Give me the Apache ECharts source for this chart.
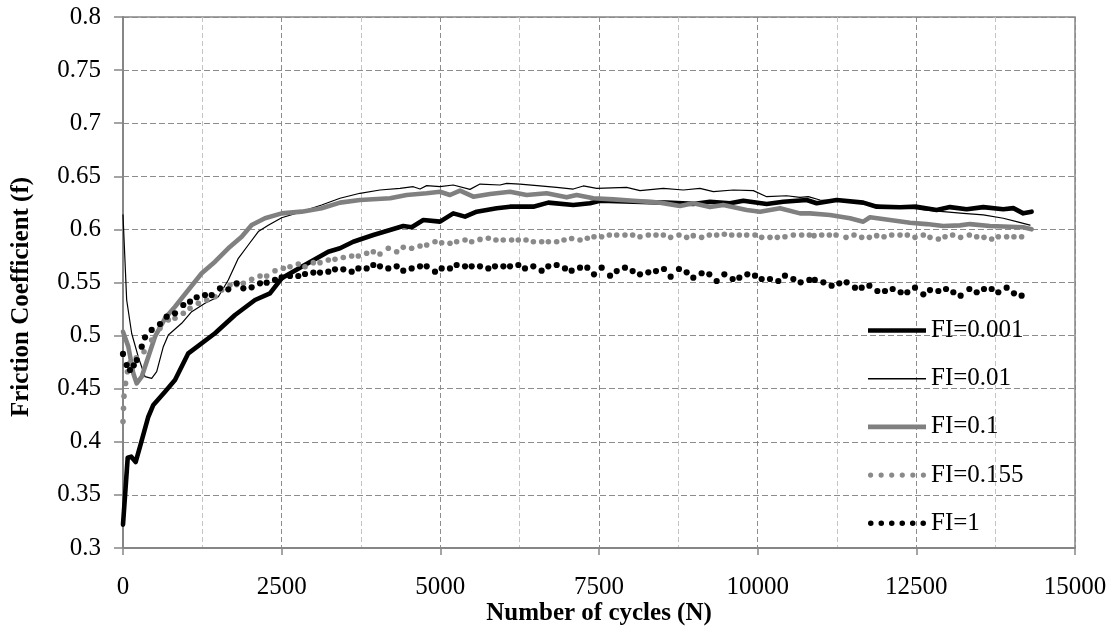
<!DOCTYPE html>
<html>
<head>
<meta charset="utf-8">
<script src="https://cdn.jsdelivr.net/npm/echarts@6/dist/echarts.min.js"></script>
<style>html,body{margin:0;padding:0;background:#fff;}#c{width:1119px;height:632px;}</style>
</head>
<body>
<div id="c"></div>
<script>
// ---- data (cycles, friction coefficient) ----
const seriesNames = ['FI=0.001', 'FI=0.01', 'FI=0.1', 'FI=0.155', 'FI=1'];

const fi0001 = [[0,0.322],[74,0.385],[130,0.386],[200,0.381],[268,0.3954],[399,0.4236],[478,0.4347],[662,0.4472],[819,0.4582],[1029,0.4833],[1450,0.5022],[1765,0.5194],[2080,0.5335],[2316,0.5398],[2500,0.554],[2815,0.5649],[3235,0.579],[3419,0.5822],[3628,0.5884],[3944,0.5947],[4207,0.5994],[4416,0.6032],[4548,0.602],[4732,0.6088],[4995,0.6073],[5204,0.6151],[5389,0.612],[5573,0.6167],[5888,0.6199],[6098,0.6214],[6465,0.6214],[6701,0.6252],[7095,0.623],[7358,0.6246],[7516,0.627],[8041,0.626],[8566,0.6252],[8986,0.624],[9249,0.626],[9564,0.6246],[9774,0.627],[10142,0.624],[10404,0.626],[10772,0.6277],[10930,0.6246],[11245,0.6277],[11664,0.6252],[11875,0.6214],[12242,0.6208],[12505,0.6214],[12820,0.6183],[13030,0.621],[13293,0.619],[13555,0.621],[13870,0.619],[14028,0.62],[14185,0.6151],[14317,0.6167]];

const fi001 = [[0,0.6136],[58,0.5335],[137,0.502],[241,0.48],[347,0.4613],[452,0.4598],[531,0.466],[635,0.4896],[714,0.5006],[924,0.5116],[1082,0.5225],[1292,0.5304],[1502,0.5366],[1659,0.5524],[1817,0.5728],[1974,0.5853],[2132,0.598],[2289,0.604],[2500,0.611],[2815,0.6167],[3130,0.623],[3419,0.6293],[3734,0.634],[4049,0.6371],[4364,0.6387],[4574,0.6402],[4680,0.638],[4785,0.6412],[4995,0.6402],[5204,0.6418],[5467,0.6377],[5625,0.6427],[5940,0.6418],[6045,0.6434],[6255,0.6427],[6570,0.6409],[6833,0.6396],[7095,0.638],[7253,0.6409],[7463,0.6387],[7936,0.6396],[8146,0.6365],[8513,0.6387],[8829,0.6371],[9091,0.6387],[9301,0.6355],[9617,0.6371],[9932,0.6365],[10142,0.6308],[10457,0.6317],[10667,0.6302],[10798,0.6308],[10982,0.6277],[11245,0.627],[11612,0.6252],[11980,0.622],[12348,0.621],[12610,0.6183],[12925,0.6167],[13240,0.6151],[13555,0.6136],[13870,0.6105],[14080,0.6073],[14291,0.6041]];

const fi01 = [[0,0.5037],[84,0.4896],[162,0.4645],[216,0.455],[295,0.4613],[399,0.48],[504,0.499],[662,0.5163],[819,0.5272],[1029,0.5429],[1240,0.5587],[1450,0.5696],[1659,0.5822],[1870,0.5931],[2027,0.6041],[2237,0.6105],[2500,0.6151],[2815,0.6167],[3130,0.6199],[3419,0.6252],[3734,0.6277],[4207,0.6293],[4470,0.6324],[4785,0.634],[4995,0.6355],[5152,0.6324],[5310,0.6365],[5520,0.6308],[5783,0.6333],[6098,0.6355],[6360,0.6324],[6675,0.634],[6990,0.6302],[7148,0.6324],[7410,0.6293],[7726,0.6283],[8041,0.627],[8461,0.6252],[8776,0.622],[8986,0.6246],[9249,0.621],[9459,0.623],[9827,0.6183],[10037,0.6167],[10352,0.62],[10667,0.6151],[10825,0.6151],[11140,0.6136],[11455,0.6105],[11664,0.6073],[11770,0.6114],[12085,0.6089],[12400,0.6063],[12663,0.605],[12925,0.6032],[13188,0.6038],[13345,0.605],[13660,0.6032],[13975,0.6025],[14185,0.602],[14317,0.6001]];

const fi0155 = [[0,0.419],[8,0.4315],[16,0.443],[40,0.455],[70,0.466],[110,0.4745],[210,0.479],[331,0.4848],[452,0.4959],[583,0.5069],[714,0.5147],[819,0.5163],[950,0.521],[1056,0.5257],[1187,0.5304],[1319,0.5335],[1450,0.5366],[1555,0.5429],[1686,0.5476],[1791,0.548],[1896,0.5492],[2027,0.553],[2159,0.5561],[2264,0.5561],[2395,0.5611],[2526,0.5634],[2631,0.5649],[2762,0.5674],[2868,0.5649],[2999,0.5687],[3104,0.5687],[3235,0.5712],[3340,0.5718],[3471,0.5735],[3603,0.575],[3708,0.575],[3839,0.5775],[3944,0.579],[4049,0.5768],[4180,0.5822],[4312,0.579],[4416,0.5831],[4548,0.5822],[4680,0.5844],[4785,0.5853],[4916,0.5884],[5021,0.5875],[5152,0.5869],[5257,0.5884],[5389,0.59],[5494,0.5884],[5625,0.5906],[5756,0.5916],[5876,0.59],[5991,0.59],[6123,0.59],[6228,0.59],[6350,0.59],[6466,0.5884],[6597,0.5884],[6702,0.5884],[6833,0.5884],[6949,0.59],[7069,0.5915],[7201,0.59],[7316,0.5916],[7421,0.5931],[7542,0.5931],[7663,0.5947],[7779,0.5947],[7909,0.5947],[8030,0.5947],[8146,0.5931],[8277,0.5947],[8398,0.5947],[8514,0.5947],[8629,0.5925],[8760,0.5947],[8881,0.5925],[8986,0.5941],[9117,0.5925],[9238,0.5947],[9354,0.5947],[9475,0.5954],[9591,0.5947],[9711,0.5947],[9827,0.5947],[9958,0.5947],[10063,0.5925],[10194,0.5925],[10310,0.5925],[10430,0.5931],[10562,0.5947],[10693,0.5947],[10814,0.5947],[10888,0.5941],[11009,0.5947],[11129,0.5947],[11235,0.5947],[11392,0.5925],[11518,0.5947],[11639,0.5925],[11760,0.5925],[11875,0.5941],[11991,0.5931],[12112,0.5947],[12243,0.5947],[12358,0.5947],[12479,0.5925],[12610,0.5947],[12715,0.5925],[12847,0.5909],[12952,0.5931],[13072,0.5947],[13198,0.5925],[13335,0.5947],[13451,0.5931],[13566,0.5925],[13687,0.5909],[13792,0.5931],[13923,0.5931],[14038,0.5931],[14159,0.5931]];

const fi1 = [[0,0.4827],[58,0.4723],[110,0.4676],[170,0.472],[216,0.477],[295,0.4896],[347,0.4984],[452,0.5053],[583,0.5109],[688,0.5178],[819,0.521],[950,0.5288],[1056,0.5319],[1161,0.5361],[1292,0.5382],[1397,0.5382],[1528,0.5445],[1659,0.5436],[1791,0.5492],[1896,0.5445],[2027,0.5455],[2159,0.5492],[2264,0.5498],[2395,0.5524],[2500,0.5549],[2631,0.5561],[2762,0.5561],[2868,0.558],[2999,0.5593],[3104,0.5593],[3235,0.5602],[3340,0.5624],[3471,0.5624],[3603,0.5602],[3708,0.5633],[3839,0.5633],[3944,0.5665],[4049,0.5652],[4180,0.5633],[4312,0.5652],[4416,0.5611],[4548,0.5633],[4680,0.5652],[4785,0.5652],[4916,0.5602],[5021,0.5633],[5152,0.5633],[5257,0.5665],[5389,0.5652],[5494,0.5652],[5625,0.5652],[5756,0.5633],[5861,0.5652],[5993,0.5652],[6098,0.5652],[6229,0.5665],[6334,0.5633],[6465,0.5652],[6596,0.5611],[6701,0.5652],[6833,0.5665],[6964,0.5633],[7069,0.5611],[7201,0.564],[7316,0.564],[7421,0.5577],[7542,0.564],[7674,0.5564],[7779,0.5608],[7909,0.564],[8030,0.5608],[8146,0.5577],[8277,0.5596],[8398,0.5608],[8524,0.5627],[8629,0.5555],[8760,0.5627],[8881,0.5596],[8986,0.5545],[9117,0.5587],[9238,0.5577],[9354,0.5514],[9475,0.5577],[9606,0.5533],[9711,0.5545],[9837,0.5577],[9958,0.5564],[10063,0.5533],[10194,0.5533],[10325,0.5514],[10430,0.5564],[10562,0.5533],[10677,0.5502],[10814,0.5524],[10900,0.5524],[11035,0.5502],[11165,0.547],[11286,0.5492],[11402,0.5502],[11533,0.5451],[11639,0.5451],[11760,0.547],[11886,0.542],[12006,0.542],[12127,0.5439],[12253,0.5408],[12358,0.5408],[12479,0.5451],[12610,0.5389],[12715,0.5429],[12847,0.542],[12968,0.5439],[13083,0.5408],[13198,0.5376],[13335,0.5439],[13451,0.5408],[13566,0.5439],[13687,0.5439],[13792,0.5408],[13923,0.5451],[14038,0.5398],[14159,0.5376]];

const xMin = 0, xMax = 15000, xStep = 2500;
const yMin = 0.3, yMax = 0.8, yStep = 0.05;
const xTitle = 'Number of cycles (N)';
const yTitle = 'Friction Coefficient (f)';

// ---- styling ----
const FONT = 'Liberation Serif';
const AX = '#868686';
function dotsPath(n, r, gap) {
  let p = 'path://';
  for (let i = 0; i < n; i++) {
    const cx = r + i * gap;
    p += 'M' + (cx - r) + ',' + r + 'a' + r + ',' + r + ' 0 1,0 ' + (2 * r) + ',0a' + r + ',' + r + ' 0 1,0 ' + (-2 * r) + ',0Z';
  }
  return p;
}
const icons = [
  'path://M0,0h58v4.6h-58z',
  'path://M0,0h54v1.3h-54z',
  'path://M0,0h58v4.6h-58z',
  dotsPath(6, 2.4, 9.8),
  dotsPath(6, 2.6, 9.8)
];

const chart = echarts.init(document.getElementById('c'), null, {renderer: 'canvas'});
const lineDefs = [
  {data: fi0001, color: '#000000', width: 4.6, dots: 0},
  {data: fi001,  color: '#000000', width: 1.2, dots: 0},
  {data: fi01,   color: '#808080', width: 4.6, dots: 0},
  {data: fi0155, color: '#8a8a8a', width: 0, dots: 5.6},
  {data: fi1,    color: '#000000', width: 0, dots: 6.2}
];

chart.setOption({
  animation: false,
  backgroundColor: '#ffffff',
  grid: {left: 123, right: 44, top: 17, bottom: 84, show: true, borderColor: AX, borderWidth: 1.5, backgroundColor: 'transparent', containLabel: false, outerBoundsMode: 'none'},
  legend: {
    orient: 'vertical', left: 868, top: 318, itemWidth: 58, itemHeight: 14, itemGap: 23.2, itemTextGap: 6,
    selectedMode: false, padding: 0,
    itemStyle: {borderWidth: 0},
    textStyle: {fontFamily: FONT, fontSize: 25, color: '#000'},
    data: seriesNames.map((n, i) => ({name: n, icon: icons[i]}))
  },
  xAxis: {
    type: 'value', min: xMin, max: xMax, interval: xStep,
    axisLine: {show: true, lineStyle: {color: AX, width: 2}},
    axisTick: {show: true, length: 7, inside: false, lineStyle: {color: AX, width: 1.5}},
    minorTick: {show: false, splitNumber: 2},
    axisLabel: {fontFamily: FONT, fontSize: 25, color: '#000', margin: 27, formatter: v => String(v)},
    splitLine: {show: true, lineStyle: {color: '#8c8c8c', width: 1, type: [5, 3]}},
    minorSplitLine: {show: true, lineStyle: {color: '#c4c4c4', width: 1, type: [5, 3]}}
  },
  yAxis: {
    type: 'value', min: yMin, max: yMax, interval: yStep,
    axisLine: {show: true, lineStyle: {color: AX, width: 2}},
    axisTick: {show: true, length: 9, inside: false, lineStyle: {color: AX, width: 1.5}},
    axisLabel: {fontFamily: FONT, fontSize: 25, color: '#000', margin: 22, formatter: v => String(+v.toFixed(2))},
    splitLine: {show: true, lineStyle: {color: '#8c8c8c', width: 1, type: [6, 3]}}
  },
  graphic: [
    {type: 'text', x: 599, y: 614, silent: true, style: {text: xTitle, font: 'bold 25px "Liberation Serif"', fill: '#000', align: 'center', verticalAlign: 'middle'}},
    {type: 'text', x: 22, y: 297, rotation: Math.PI / 2, silent: true, style: {text: yTitle, font: 'bold 25px "Liberation Serif"', fill: '#000', align: 'center', verticalAlign: 'middle'}}
  ],
  series: lineDefs.map((d, i) => ({
    name: seriesNames[i], type: 'line', data: d.data,
    symbol: d.dots ? 'circle' : 'none', symbolSize: d.dots || 0,
    showSymbol: !!d.dots, showAllSymbol: true, smooth: false, z: 2 + i,
    itemStyle: {color: d.color, borderWidth: 0},
    lineStyle: {color: d.color, width: d.width, opacity: d.dots ? 0 : 1, cap: 'round', join: 'round'},
    emphasis: {disabled: true}
  }))
});
</script>
</body>
</html>
